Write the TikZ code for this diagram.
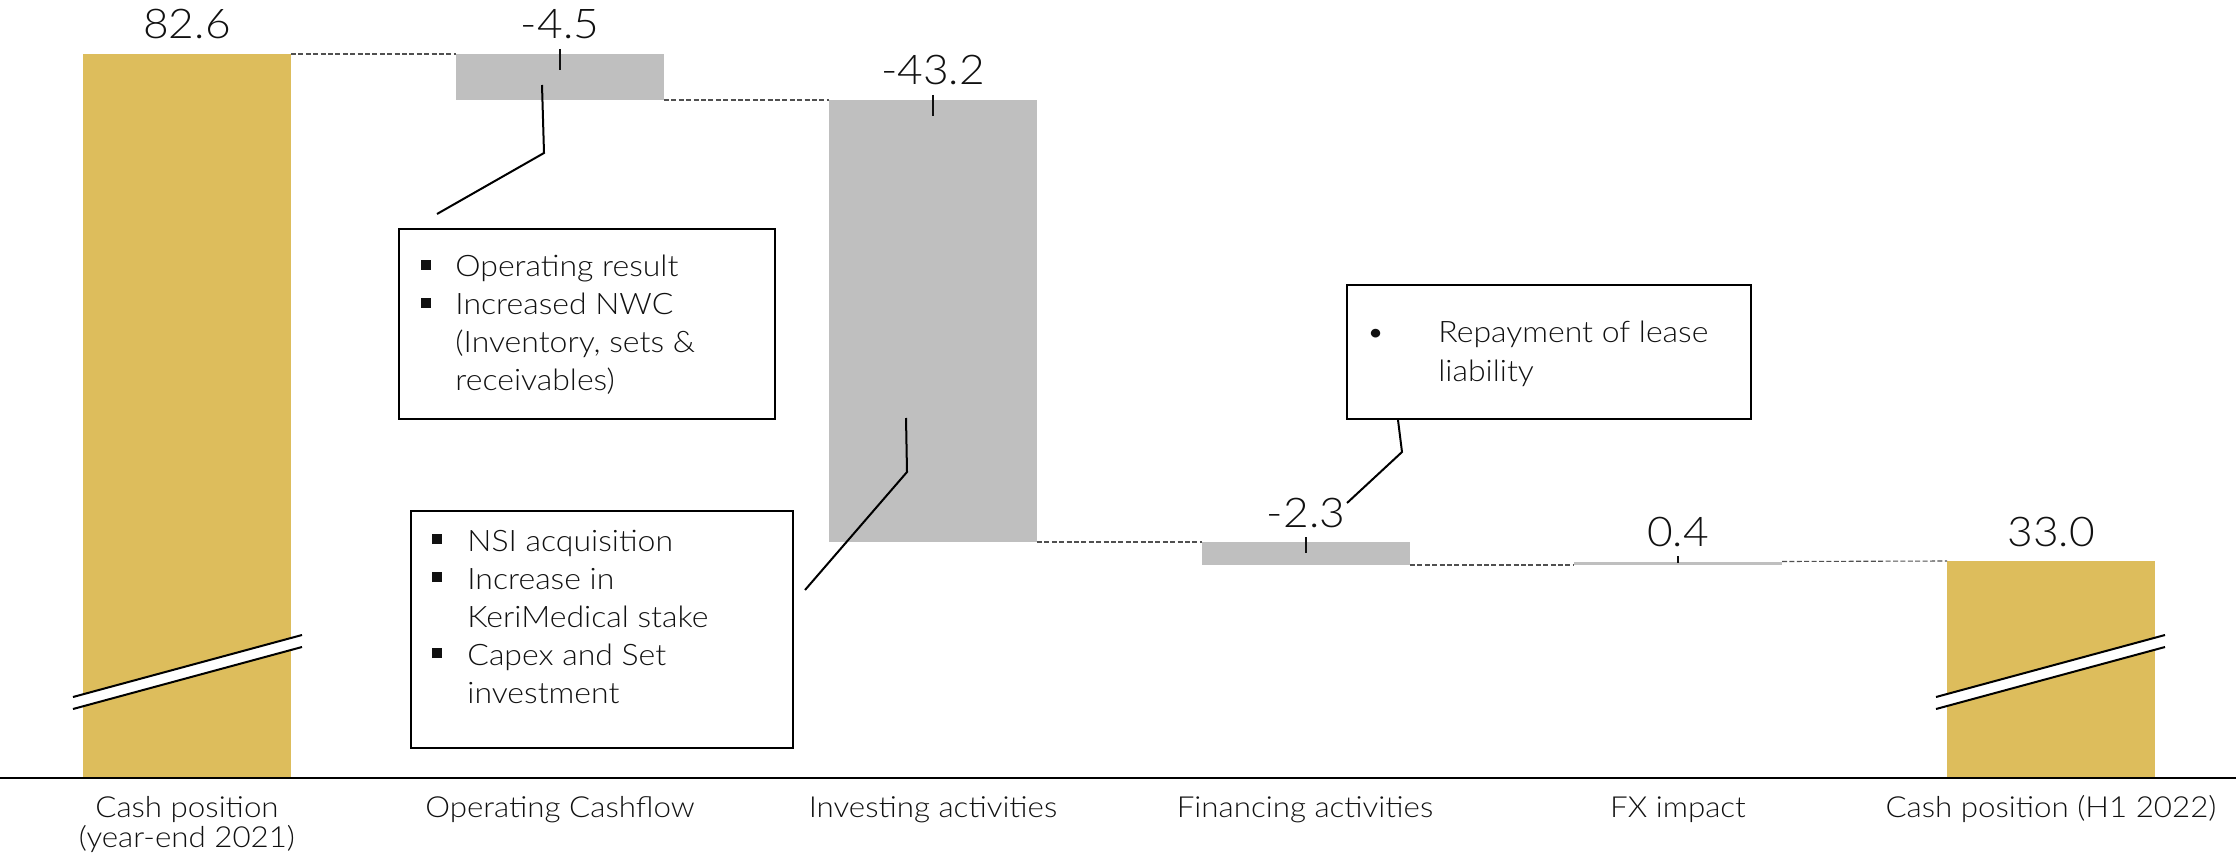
\documentclass[tikz,border=0pt]{standalone}
\usepackage{fontspec}
\IfFontExistsTF{Lato Light}{\setmainfont{Lato Light}[FakeStretch=1.08]}{\setmainfont{Lato}[FakeStretch=1.08]}
\definecolor{gold}{HTML}{DDBD5C}
\definecolor{barg}{HTML}{BFBFBF}
\definecolor{ink}{HTML}{111111}
\definecolor{dashc}{HTML}{505050}
\newcommand{\bsq}[1]{\makebox[#1][l]{\rule[3.5pt]{4.8pt}{4.8pt}}}
\begin{document}
\begin{tikzpicture}[x=0.5pt,y=-0.5pt,
  every node/.style={text=ink},
  bar/.style={anchor=north west, inner sep=0pt, outer sep=0pt, minimum width=104pt},
  goldbar/.style={bar, fill=gold},
  graybar/.style={bar, fill=barg},
  val/.style={anchor=base, inner sep=0pt, font=\fontsize{20.5pt}{24pt}\selectfont},
  cat/.style={anchor=base, inner sep=0pt, align=center, font=\fontsize{14.5pt}{14pt}\selectfont},
  callbox/.style={draw=black, line width=1pt, anchor=north west, inner sep=0pt},
  boxtext/.style={anchor=base west, inner sep=0pt, font=\fontsize{14.8pt}{19pt}\selectfont},
  leader/.style={draw=black, line width=1pt},
  ticklead/.style={draw=ink, line width=0.7pt},
  bridge/.style={draw=dashc, line width=0.55pt, dash pattern=on 2.5pt off 1.2pt},
  brk/.style={draw=black, line width=1pt}
]
\useasboundingbox (0,0) rectangle (2236,861);

% bars
\node[goldbar, minimum height=362pt] (b1) at (83,54) {};
\node[graybar, minimum height=23pt] (b2) at (456,54) {};
\node[graybar, minimum height=221pt] (b3) at (829,100) {};
\node[graybar, minimum height=11.5pt] (b4) at (1202,542) {};
\node[graybar, minimum height=1.75pt] (b5) at (1574,561.5) {};
\node[goldbar, minimum height=108.5pt] (b6) at (1947,561) {};

% bridges
\draw[bridge] (b1.north east) -- (b2.north west);
\draw[bridge] (b2.south east) -- (b3.north west);
\draw[bridge] (b3.south east) -- (b4.north west);
\draw[bridge] (b4.south east) -- (b5.south west);
\draw[bridge] (b5.north east) -- (b6.north west);

% value labels
\node[val] (v1) at ([yshift=7.5pt]b1.north) {82.6};
\node[val] (v2) at ([yshift=7.5pt]b2.north) {-4.5};
\node[val] (v3) at ([yshift=7.5pt]b3.north) {-43.2};
\node[val] (v4) at ([yshift=7.5pt]b4.north) {-2.3};
\node[val] (v5) at ([yshift=7.5pt]b5.north) {0.4};
\node[val] (v6) at ([yshift=7.5pt]b6.north) {33.0};

% label leader ticks
\draw[ticklead] ([yshift=2.5pt]b2.north) -- ++(0,21);
\draw[ticklead] ([yshift=2.5pt]b3.north) -- ++(0,21);
\draw[ticklead] ([yshift=2.5pt]b4.north) -- ++(0,16);
\draw[ticklead] ([yshift=2.75pt]b5.north) -- ++(0,7);

% axis
\coordinate (axl) at (0,777.5);
\coordinate (axr) at (2236,777.5);
\draw[black, line width=1pt] (axl) -- (axr);

% axis breaks
\fill[white] (73,697) -- (302,635) -- (302,647) -- (73,709) -- cycle;
\draw[brk] (73,697) -- (302,635);
\draw[brk] (73,709) -- (302,647);
\fill[white] (1936,697) -- (2165,635) -- (2165,647) -- (1936,709) -- cycle;
\draw[brk] (1936,697) -- (2165,635);
\draw[brk] (1936,709) -- (2165,647);

% category labels
\node[cat] (k1) at (187,817) {\begin{tabular}[t]{@{}c@{}}Cash position\\(year-end 2021)\end{tabular}};
\node[cat] (k2) at (560,817) {Operating Cashflow};
\node[cat] (k3) at (933,817) {Investing activities};
\node[cat] (k4) at (1305,817) {Financing activities};
\node[cat] (k5) at (1678,817) {FX impact};
\node[cat] (k6) at (2051,817) {Cash position (H1 2022)};

% callout boxes
\node[callbox, minimum width=188pt, minimum height=95pt] (box1) at (398,228) {};
\node[boxtext] (t1) at (421,277) {\begin{tabular}[t]{@{}l@{}}
\bsq{17pt}Operating result\\
\bsq{17pt}Increased NWC\\
\hspace*{17pt}(Inventory, sets \&\\
\hspace*{17pt}receivables)\end{tabular}};

\node[callbox, minimum width=191pt, minimum height=118.5pt] (box2) at (410,510) {};
\node[boxtext] (t2) at (432,551) {\begin{tabular}[t]{@{}l@{}}
\bsq{17.5pt}NSI acquisition\\
\bsq{17.5pt}Increase in\\
\hspace*{17.5pt}KeriMedical stake\\
\bsq{17.5pt}Capex and Set\\
\hspace*{17.5pt}investment\end{tabular}};

\node[callbox, minimum width=202pt, minimum height=67pt] (box3) at (1346,284) {};
\node[boxtext, font=\fontsize{14.8pt}{19.5pt}\selectfont] (t3) at (1366,342) {\begin{tabular}[t]{@{}l@{}}
\makebox[36pt][l]{\textbullet}Repayment of lease\\
\hspace*{36pt}liability\end{tabular}};

% callout leaders
\coordinate (c1a) at (542,85);
\coordinate (c1b) at (544,153);
\coordinate (c1c) at (437,214);
\draw[leader] (c1a) -- (c1b) -- (c1c);
\coordinate (c2a) at (906,418);
\coordinate (c2b) at (907,472);
\coordinate (c2c) at (805,590);
\draw[leader] (c2a) -- (c2b) -- (c2c);
\coordinate (c3a) at (1398,420);
\coordinate (c3b) at (1402,452);
\coordinate (c3c) at (1347,503);
\draw[leader] (c3a) -- (c3b) -- (c3c);
\end{tikzpicture}
\end{document}
